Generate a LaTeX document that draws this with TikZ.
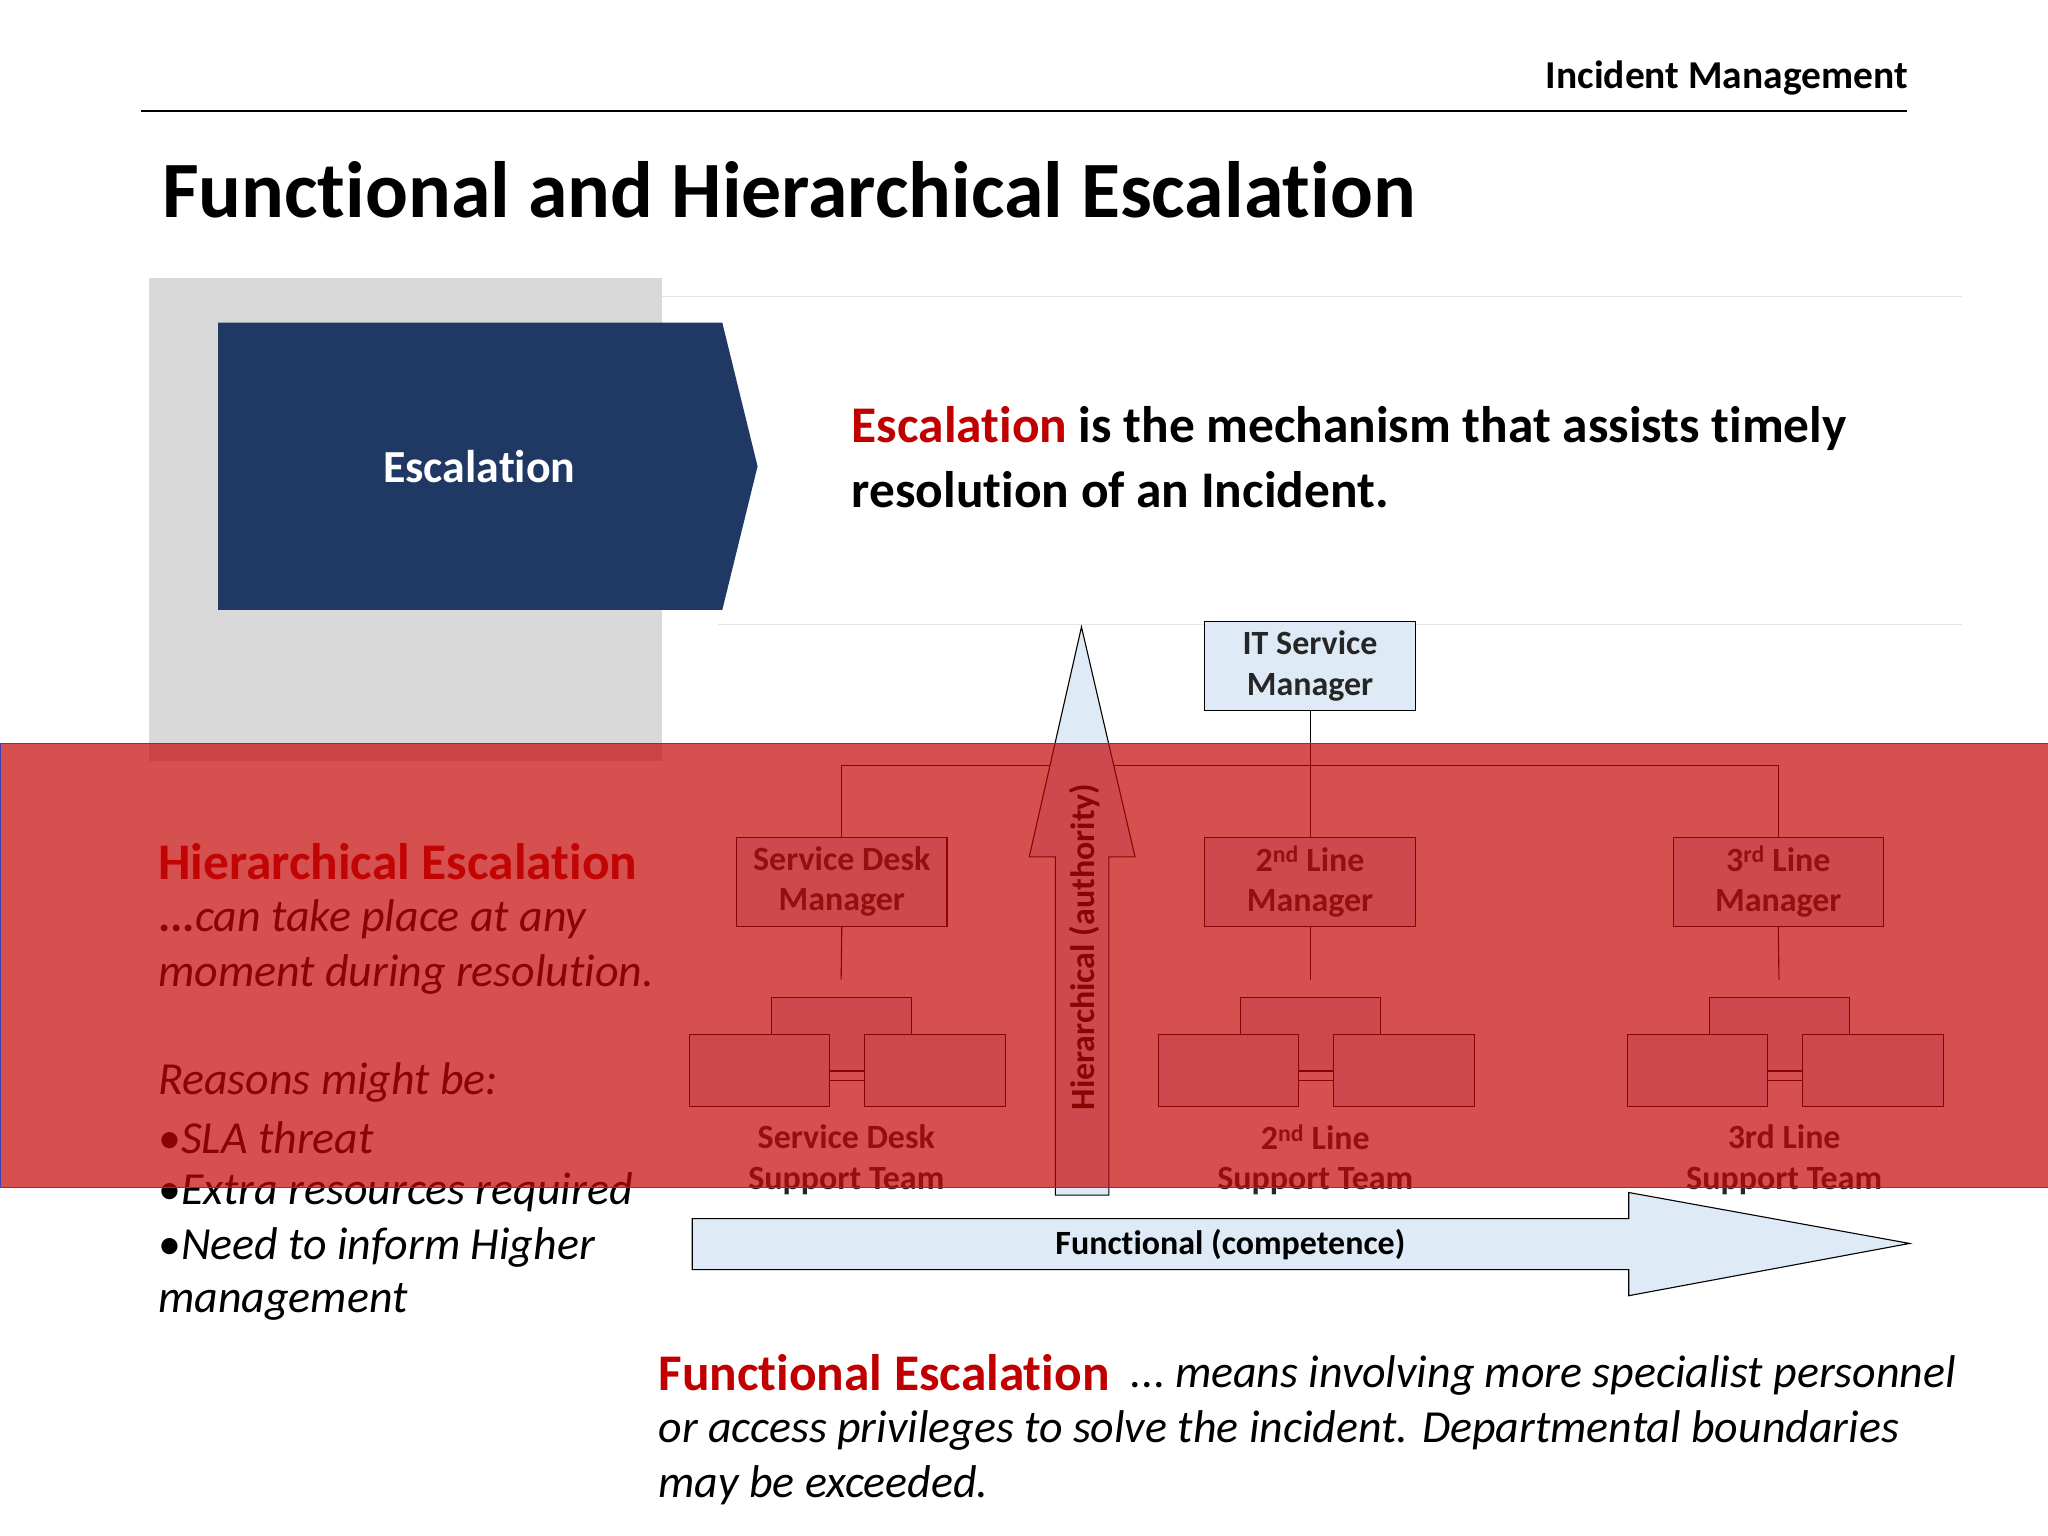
\documentclass[tikz,border=0pt]{standalone}
\usepackage{fontspec}
\setmainfont[Ligatures={NoCommon}]{Carlito}
\begin{document}
\def\fs#1{\fontsize{#1pt}{#1pt}\selectfont}
\definecolor{navy}{HTML}{203864}
\definecolor{lb}{HTML}{DEEBF7}
\definecolor{rd}{HTML}{C00000}
\definecolor{band}{RGB}{197,6,6}
\begin{tikzpicture}[x=0.05cm,y=-0.05cm,
  box/.style={draw=black,fill=lb,line width=1.2pt},
  lbl/.style={align=center,font=\fontsize{37pt}{44pt}\selectfont\bfseries,text=black!85},
  ln/.style={line width=1.2pt},
  it/.style={anchor=west,font=\fs{50}\itshape,inner sep=0},
  bt/.style={anchor=west,font=\fs{56}\bfseries,inner sep=0}]
\useasboundingbox (0,0) rectangle (1568,1176);
\fill[white] (0,0) rectangle (1568,1176);
\node[anchor=east,font=\fs{43}\bfseries] (hdr) at (1463,60) {Incident Management};
\draw[line width=1.2pt] (108,85) -- (1460,85);
\node[anchor=west,font=\fs{87}\bfseries,inner sep=0] (title) at (124,145) {Functional and Hierarchical Escalation};
\fill[black!15] (114,213) rectangle (507,583);
\draw[black!10,line width=1pt] (507,227) -- (1502,227);
\draw[black!10,line width=1pt] (550,478) -- (1502,478);
\fill[navy] (167,247) -- (553,247) -- (580,357) -- (553,467) -- (167,467) -- cycle;
\node[text=white,font=\fs{50}\bfseries] (esc) at (367,357) {Escalation};
\node[bt] (d1) at (652,328) {\textcolor{rd}{Escalation} is the mechanism that assists timely};
\node[bt] (d2) at (652,375) {resolution of an Incident.};
% org chart
\node[box,lbl,minimum width=161*0.05cm,minimum height=68*0.05cm] (itsm) at (1003,510) {IT Service\\Manager};
\node[box,lbl,minimum width=161*0.05cm,minimum height=68*0.05cm] (m1) at (644.5,675) {Service Desk\\Manager};
\node[box,lbl,minimum width=161*0.05cm,minimum height=68*0.05cm] (m2) at (1003,675) {2\textsuperscript{nd} Line\\Manager};
\node[box,lbl,minimum width=161*0.05cm,minimum height=68*0.05cm] (m3) at (1361.5,675) {3\textsuperscript{rd} Line\\Manager};
\coordinate (j) at (1003,586);
\draw[ln] (itsm.south) -- (j);
\draw[ln] (m1.north) |- (j) -| (m3.north);
\draw[ln] (j) -- (m2.north);
\foreach \c/\n/\t in {644/1/Service Desk\\Support Team,1003/2/2\textsuperscript{nd} Line\\Support Team,1362/3/3rd Line\\Support Team}{
  \coordinate (s\n) at (\c,750);
  \draw[ln] (m\n.south) -- (s\n);
  \draw[box] (\c-53,764) rectangle (\c+54,820);
  \draw[box] (\c-116,792) rectangle (\c-9,847);
  \draw[box] (\c+18,792) rectangle (\c+126,847);
  \draw[ln] (\c-9,827) -- (\c+18,827);
  \node[lbl] (t\n) at (\c+4,888) {\t};
}
% hierarchical arrow
\draw[box] (808,915) -- (808,656) -- (788,656) -- (828,480) -- (869,656) -- (849,656) -- (849,915) -- cycle;
\node[rotate=90,font=\fs{37}\bfseries] (ha) at (830,725) {Hierarchical (authority)};
% functional arrow
\draw[box] (530,933) -- (1247,933) -- (1247,913) -- (1462,952) -- (1247,992) -- (1247,972) -- (530,972) -- cycle;
\node[font=\fs{37}\bfseries] (fa) at (942,953) {Functional (competence)};
% left text
\node[bt,text=rd] (h1) at (121,660) {Hierarchical Escalation};
\node[it] at (121,704) {\textbf{\upshape...}can take place at any};
\node[it] at (121,746) {moment during resolution.};
\node[it] at (121,829) {Reasons might be:};
\node[it] at (121,871) {\upshape\textbullet\itshape SLA threat};
\node[it] at (121,913) {\upshape\textbullet\itshape Extra resources required};
\node[it] at (121,955) {\upshape\textbullet\itshape Need to inform Higher};
\node[it] at (121,997) {management};
% bottom text
\node[bt,text=rd] (f1) at (504,1051) {Functional Escalation};
\node[it] at (865,1053) {\upshape...\itshape\ means involving more specialist personnel};
\node[it] at (504,1095) {or access privileges to solve the incident. Departmental boundaries};
\node[it] at (504,1137) {may be exceeded.};
% overlay band
\fill[band,opacity=0.7] (0,569) rectangle (1568,909);
\draw[blue!50!gray,line width=1pt] (0,569) rectangle (1568,909);
\end{tikzpicture}
\end{document}
